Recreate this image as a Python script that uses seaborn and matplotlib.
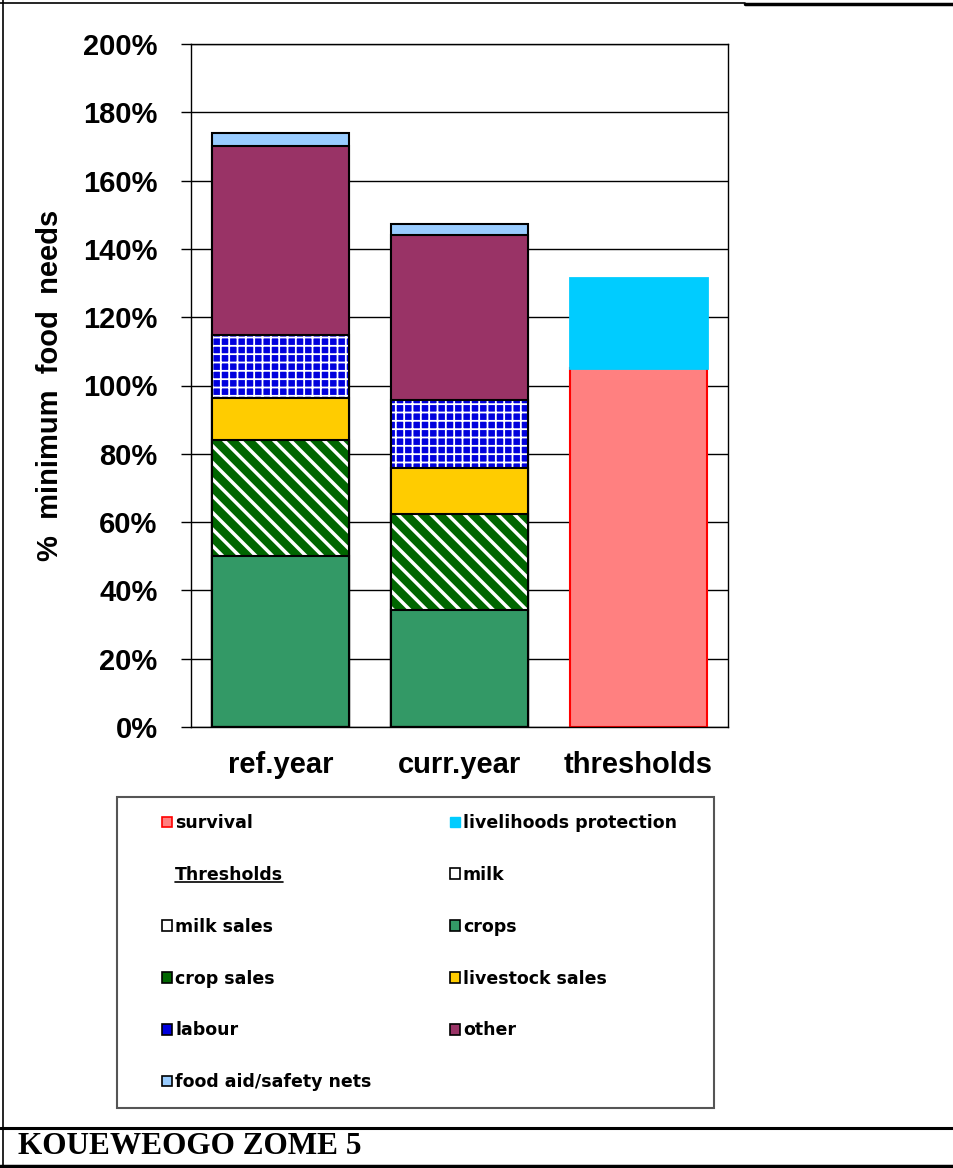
import numpy as np
import pandas as pd
import seaborn as sns
import matplotlib.pyplot as plt
from matplotlib.patches import Patch, Rectangle
from matplotlib.lines import Line2D

# categories on the x axis
categories = ['ref.year', 'curr.year', 'thresholds']
years = ['ref.year', 'curr.year']

# sources of food (% of minimum food needs), bottom to top
milk = [0, 0]
milk_sales = [0, 0]
crops = [50, 34.3]
crop_sales = [34, 28.1]
livestock_sales = [12.3, 13.4]
labour = [18.5, 20]
other = [55.3, 48.3]
food_aid = [3.8, 3.2]

# thresholds bar
thr_label = ['thresholds']
survival = [105]
livelihoods_protection = [26.5]

yticks = list(range(0, 201, 20))

sns.set_style('white')
plt.rcParams['font.family'] = ['Liberation Sans', 'DejaVu Sans']
plt.rcParams['hatch.linewidth'] = 2.5
for k in ['text.color', 'axes.labelcolor', 'xtick.color', 'ytick.color']:
    plt.rcParams[k] = 'black'

src = pd.DataFrame({'year': years, 'milk': milk, 'milk sales': milk_sales,
                    'crops': crops, 'crop sales': crop_sales,
                    'livestock sales': livestock_sales, 'labour': labour,
                    'other': other, 'food aid/safety nets': food_aid})
stack = ['milk', 'milk sales', 'crops', 'crop sales', 'livestock sales',
         'labour', 'other', 'food aid/safety nets']
src[[s + '_top' for s in stack]] = src[stack].cumsum(axis=1).values

thr = pd.DataFrame({'year': thr_label, 'survival': survival,
                    'lp': livelihoods_protection})

styles = {
    'milk': dict(color='white'),
    'milk sales': dict(color='white'),
    'crops': dict(color='#339966'),
    'crop sales': dict(color='#006600', hatch='\\\\'),
    'livestock sales': dict(color='#FFCC00'),
    'labour': dict(color='#0000DD', hatch='++'),
    'other': dict(color='#993366'),
    'food aid/safety nets': dict(color='#99CCFF'),
}

fig = plt.figure(figsize=(9.54, 11.68), dpi=100)
ax = fig.add_axes([191 / 954, 1 - 727 / 1168, 537 / 954, 683 / 1168])

W = 0.77
common = dict(order=categories, width=W, errorbar=None, saturation=1, ax=ax)

# draw cumulative tops from the top layer down
for name in reversed(stack):
    st = styles[name]
    if 'hatch' in st:
        sns.barplot(data=src, x='year', y=name + '_top', color=st['color'],
                    edgecolor='white', linewidth=0, hatch=st['hatch'], **common)
        sns.barplot(data=src, x='year', y=name + '_top', fill=False, color='black',
                    edgecolor='black', linewidth=1.5, **common)
    else:
        sns.barplot(data=src, x='year', y=name + '_top', color=st['color'],
                    edgecolor='black', linewidth=1.5, **common)

for p in ax.patches:
    if p.get_hatch() == '++' and hasattr(p, 'set_hatch_linewidth'):
        p.set_hatch_linewidth(1.3)

# thresholds
sns.barplot(data=thr, x='year', y='survival', color='#FF8080',
            edgecolor='#FF0000', linewidth=1.5, **common)
sns.barplot(data=thr, x='year', y='lp', bottom=thr['survival'], color='#00CCFF',
            edgecolor='#00CCFF', linewidth=2.0, **common)

ax.set_xlim(-0.5, 2.5)
ax.set_ylim(0, 200)
ax.set_yticks(yticks)
ax.set_yticklabels([f'{v}%' for v in yticks], fontsize=21, fontweight='bold')
ax.set_xticks(range(len(categories)))
ax.set_xticklabels(categories, fontsize=21, fontweight='bold')
ax.set_xticks([-0.5, 0.5, 1.5, 2.5], minor=True)
ax.tick_params(axis='x', which='major', length=0, pad=17)
ax.tick_params(axis='x', which='minor', length=7, width=1, color='black')
ax.tick_params(axis='y', length=7, width=1, color='black', pad=17, left=True)
ax.yaxis.grid(True, color='black', linewidth=1)
ax.xaxis.grid(False)
ax.set_axisbelow(True)
for sp in ax.spines.values():
    sp.set_visible(True)
    sp.set_color('black')
    sp.set_linewidth(1)
ax.set_xlabel('')
ax.set_ylabel('%  minimum  food  needs', fontsize=21, fontweight='bold')
ax.yaxis.set_label_coords(-0.237, 0.5)

# legend box
fig.add_artist(Rectangle((117 / 954, 1 - 1108 / 1168), 597 / 954, 311 / 1168,
                         transform=fig.transFigure, facecolor='white',
                         edgecolor='#555555', linewidth=1.5, zorder=1))

edge_kw = dict(edgecolor='black', linewidth=1.2)
handles = {
    'survival': Patch(facecolor='#FF8080', edgecolor='#FF0000', linewidth=1.2),
    'livelihoods protection': Patch(facecolor='#00CCFF', edgecolor='#00CCFF'),
    'Thresholds': Patch(facecolor='none', edgecolor='none'),
    'milk': Patch(facecolor='white', **edge_kw),
    'milk sales': Patch(facecolor='white', **edge_kw),
    'crops': Patch(facecolor='#339966', **edge_kw),
    'crop sales': Patch(facecolor='#006600', **edge_kw),
    'livestock sales': Patch(facecolor='#FFCC00', **edge_kw),
    'labour': Patch(facecolor='#0000DD', **edge_kw),
    'other': Patch(facecolor='#993366', **edge_kw),
    'food aid/safety nets': Patch(facecolor='#99CCFF', **edge_kw),
}
col1 = ['survival', 'Thresholds', 'milk sales', 'crop sales', 'labour',
        'food aid/safety nets']
col2 = ['livelihoods protection', 'milk', 'crops', 'livestock sales', 'other']
labels = col1 + col2
leg_top = 1 - 814 / 1168
leg = fig.legend([handles[l] for l in labels], labels, ncol=2, loc='upper left',
                 bbox_to_anchor=(162 / 954, leg_top - 0.01, (677 - 162) / 954, 0.01),
                 mode='expand', frameon=False, borderpad=0, borderaxespad=0,
                 handlelength=0.55, handleheight=0.55, handletextpad=0.2,
                 labelspacing=1.95, prop={'family': 'DejaVu Sans', 'weight': 'bold', 'size': 12.5})
leg.set_zorder(2)

# underline the "Thresholds" heading
fig.canvas.draw()
for t in leg.get_texts():
    if t.get_text() == 'Thresholds':
        bb = t.get_window_extent().transformed(fig.transFigure.inverted())
        fig.add_artist(Line2D([bb.x0, bb.x1], [bb.y0 + 0.002] * 2, lw=1.2,
                              color='black', transform=fig.transFigure, zorder=3))

# page frame lines
line_kw = dict(transform=fig.transFigure, color='black')
fig.add_artist(Line2D([0, 745 / 954], [1 - 3 / 1168] * 2, lw=1.2, **line_kw))
fig.add_artist(Line2D([745 / 954, 1], [1 - 4 / 1168] * 2, lw=2.5, **line_kw))
fig.add_artist(Line2D([3 / 954] * 2, [0, 1], lw=1.2, **line_kw))
fig.add_artist(Line2D([0, 1], [1 - 1128 / 1168] * 2, lw=2.2, **line_kw))
fig.add_artist(Line2D([0, 1], [1 - 1166 / 1168] * 2, lw=2.5, **line_kw))

fig.text(18 / 954, 1 - 1147 / 1168, 'KOUEWEOGO ZOME 5', fontsize=22.5, fontweight='bold',
         family='Liberation Serif', va='center', ha='left')

fig.savefig('out.png', dpi=100)
